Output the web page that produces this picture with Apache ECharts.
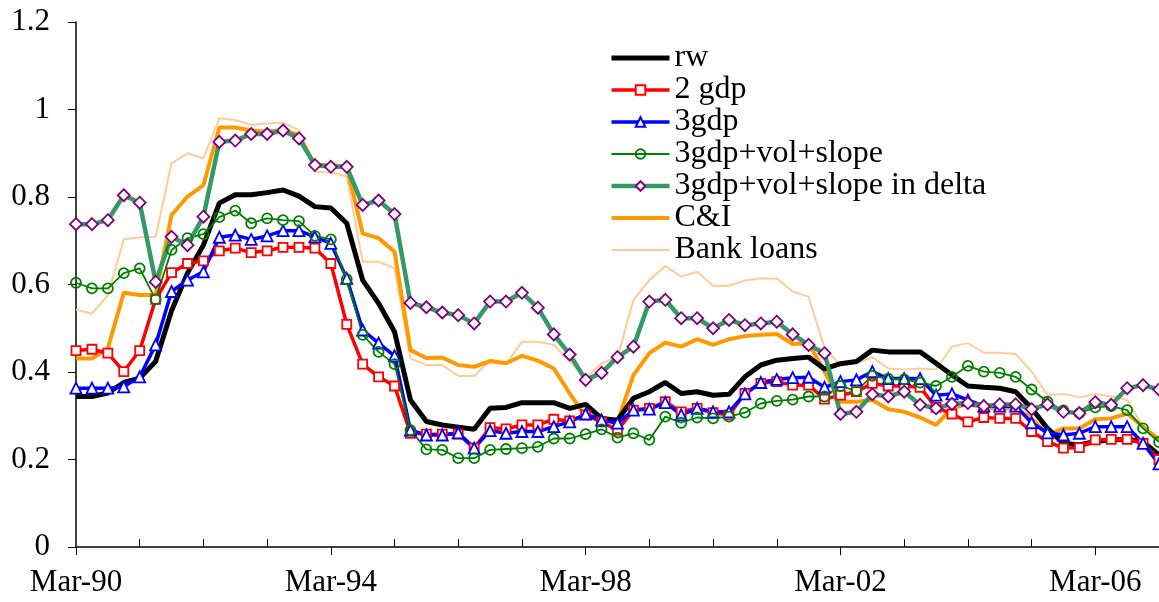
<!DOCTYPE html>
<html>
<head>
<meta charset="utf-8">
<script src="https://cdn.jsdelivr.net/npm/echarts@6/dist/echarts.min.js"></script>
<style>
  html, body { margin: 0; padding: 0; background: #fff; }
  #main { width: 1159px; height: 602px; }
</style>
</head>
<body>
<div id="main"></div>
<script>
// quarterly, Mar-90 .. Mar-07
const years = [90, 91, 92, 93, 94, 95, 96, 97, 98, 99, 0, 1, 2, 3, 4, 5, 6, 7]
const months = ['Mar', 'Jun', 'Sep', 'Dec']
const seriesNames = ['rw', '2 gdp', '3gdp', '3gdp+vol+slope', '3gdp+vol+slope in delta', 'C&I', 'Bank loans']

const rw = [0.344,0.344,0.352,0.376,0.386,0.424,0.54,0.626,0.69,0.786,
  0.805,0.805,0.81,0.816,0.802,0.778,0.775,0.74,0.61,0.557,
  0.492,0.336,0.287,0.279,0.274,0.269,0.317,0.319,0.33,0.33,
  0.33,0.317,0.326,0.294,0.29,0.34,0.355,0.376,0.351,0.355,
  0.347,0.349,0.389,0.416,0.427,0.431,0.434,0.407,0.419,0.424,
  0.45,0.446,0.446,0.446,0.42,0.393,0.368,0.365,0.363,0.355,
  0.317,0.271,0.237,0.233,0.241,0.245,0.246,0.241,0.21]
const gdp2 = [0.449,0.452,0.443,0.401,0.449,0.566,0.627,0.648,0.654,0.677,
  0.683,0.673,0.677,0.685,0.685,0.683,0.648,0.509,0.418,0.389,
  0.368,0.26,0.258,0.258,0.258,0.226,0.273,0.27,0.279,0.279,
  0.292,0.288,0.302,0.286,0.267,0.313,0.317,0.332,0.309,0.317,
  0.307,0.302,0.351,0.374,0.378,0.37,0.37,0.338,0.347,0.355,
  0.374,0.368,0.368,0.365,0.319,0.304,0.286,0.296,0.294,0.294,
  0.264,0.241,0.226,0.227,0.245,0.246,0.246,0.237,0.2]
const gdp3 = [0.363,0.363,0.363,0.366,0.389,0.462,0.584,0.61,0.629,0.708,
  0.713,0.703,0.711,0.723,0.723,0.709,0.694,0.614,0.496,0.466,
  0.437,0.267,0.256,0.256,0.261,0.226,0.266,0.26,0.264,0.264,
  0.275,0.286,0.304,0.29,0.283,0.313,0.315,0.33,0.302,0.317,
  0.309,0.309,0.35,0.376,0.383,0.387,0.388,0.365,0.378,0.382,
  0.401,0.385,0.385,0.385,0.347,0.35,0.336,0.322,0.322,0.322,
  0.284,0.261,0.256,0.26,0.275,0.275,0.275,0.237,0.19]
const volSlope = [0.604,0.591,0.591,0.626,0.637,0.566,0.679,0.706,0.715,0.754,
  0.769,0.74,0.751,0.747,0.745,0.711,0.703,0.612,0.485,0.446,
  0.418,0.267,0.223,0.222,0.203,0.203,0.222,0.224,0.226,0.229,
  0.248,0.248,0.258,0.269,0.25,0.26,0.245,0.298,0.284,0.296,
  0.294,0.298,0.307,0.328,0.334,0.337,0.344,0.344,0.368,0.357,
  0.391,0.385,0.383,0.376,0.368,0.389,0.414,0.401,0.398,0.389,
  0.36,0.332,0.312,0.306,0.319,0.322,0.313,0.271,0.24]
const volSlopeDelta = [0.738,0.738,0.747,0.804,0.787,0.606,0.709,0.69,0.755,0.926,
  0.929,0.944,0.944,0.952,0.934,0.873,0.869,0.869,0.782,0.792,
  0.761,0.558,0.548,0.536,0.53,0.511,0.561,0.561,0.581,0.547,
  0.486,0.44,0.382,0.398,0.434,0.458,0.561,0.565,0.523,0.523,
  0.5,0.519,0.507,0.511,0.515,0.486,0.462,0.443,0.304,0.309,
  0.349,0.344,0.355,0.325,0.317,0.327,0.329,0.322,0.326,0.326,
  0.315,0.326,0.309,0.306,0.331,0.325,0.363,0.37,0.36]
const cni = [0.431,0.431,0.454,0.581,0.576,0.576,0.759,0.801,0.827,0.959,
  0.959,0.952,0.949,0.953,0.942,0.873,0.873,0.869,0.717,0.706,
  0.675,0.45,0.432,0.433,0.416,0.412,0.425,0.42,0.437,0.426,
  0.408,0.351,0.298,0.29,0.286,0.393,0.443,0.467,0.458,0.475,
  0.462,0.475,0.482,0.485,0.487,0.464,0.466,0.401,0.332,0.332,
  0.336,0.315,0.309,0.296,0.279,0.317,0.327,0.319,0.317,0.317,
  0.294,0.256,0.271,0.271,0.292,0.294,0.305,0.275,0.245]
const bankLoans = [0.543,0.533,0.576,0.703,0.708,0.709,0.877,0.9,0.888,0.98,
  0.976,0.965,0.968,0.97,0.953,0.858,0.856,0.847,0.652,0.652,
  0.637,0.431,0.416,0.416,0.391,0.391,0.427,0.418,0.469,0.469,
  0.462,0.424,0.386,0.42,0.433,0.565,0.61,0.642,0.618,0.629,
  0.597,0.597,0.609,0.614,0.614,0.584,0.572,0.454,0.416,0.42,
  0.434,0.408,0.406,0.408,0.406,0.458,0.466,0.444,0.444,0.441,
  0.401,0.347,0.35,0.342,0.35,0.344,0.336,0.275,0.25]

let categories = []
for (let y = 0; y < years.length; y++) {
  for (let q = 0; q < 4; q++) {
    if (categories.length >= rw.length) break
    categories.push(months[q] + '-' + String(years[y]).padStart(2, '0'))
  }
}

const font = 'Liberation Serif, Times New Roman, serif'
let chart = echarts.init(document.getElementById('main'), null, { renderer: 'canvas' })

function markerLine(name, data, color, width, symbol, size, markColor, fill) {
  return {
    name: name,
    type: 'line',
    data: data,
    color: color,
    symbol: symbol,
    symbolSize: size,
    showSymbol: symbol !== 'none',
    showAllSymbol: true,
    lineStyle: { color: color, width: width },
    itemStyle: { color: fill, borderColor: markColor || color, borderWidth: 1.8 },
    emphasis: { disabled: true },
    animation: false
  }
}

// legend entries: no marker for the plain lines, real line widths
function legendItem(name, width, plain) {
  let item = { name: name, lineStyle: { width: width } }
  if (plain) item.itemStyle = { color: 'rgba(0,0,0,0)', borderColor: 'rgba(0,0,0,0)', opacity: 0 }
  return item
}

function getOption() {
  return {
    animation: false,
    grid: { left: 76, right: -5, top: 22, bottom: 55 },
    legend: {
      orient: 'vertical',
      left: 604,
      top: 37,
      itemWidth: 58,
      itemHeight: 12,
      itemGap: 0,
      data: [
        legendItem('rw', 5, true),
        legendItem('2 gdp', 3.5),
        legendItem('3gdp', 3.5),
        legendItem('3gdp+vol+slope', 1.8),
        legendItem('3gdp+vol+slope in delta', 4.5),
        legendItem('C&I', 4, true),
        legendItem('Bank loans', 2, true)
      ],
      textStyle: { fontFamily: font, fontSize: 32, lineHeight: 31, color: '#000', padding: [0, 0, 0, 0] }
    },
    xAxis: [{
      type: 'category',
      data: categories,
      boundaryGap: false,
      position: 'bottom',
      axisLine: { lineStyle: { color: '#000', width: 1.5 } },
      axisTick: {
        inside: true, length: 8, lineStyle: { color: '#000' },
        interval: function (i) { return i % 4 === 0 && i % 16 !== 0 }
      },
      axisLabel: {
        interval: 15, margin: 20, color: '#000', fontFamily: font, fontSize: 31
      },
      splitLine: { show: false }
    }, {
      type: 'category',
      data: categories,
      boundaryGap: false,
      position: 'bottom',
      axisLine: { show: false },
      axisTick: {
        length: 8, lineStyle: { color: '#000' },
        interval: function (i) { return i % 16 === 0 }
      },
      axisLabel: { show: false },
      splitLine: { show: false }
    }],
    yAxis: {
      type: 'value',
      min: 0,
      max: 1.2,
      interval: 0.2,
      axisLine: { show: true, lineStyle: { color: '#000', width: 1.5 } },
      axisTick: { show: true, length: 8, lineStyle: { color: '#000' } },
      axisLabel: { margin: 26, color: '#000', fontFamily: font, fontSize: 31 },
      splitLine: { show: false }
    },
    series: [
      markerLine('Bank loans', bankLoans, '#FFCC99', 2, 'none', 0),
      markerLine('C&I', cni, '#FF9900', 4, 'none', 0),
      markerLine('rw', rw, '#000000', 5, 'none', 0),
      markerLine('2 gdp', gdp2, '#FF0000', 3.5, 'rect', 9, '#FF0000', '#fff'),
      markerLine('3gdp', gdp3, '#0000FF', 3.5, 'triangle', 11, '#0000FF', '#fff'),
      markerLine('3gdp+vol+slope', volSlope, '#008000', 1.8, 'circle', 10, '#008000', 'rgba(255,255,255,0)'),
      markerLine('3gdp+vol+slope in delta', volSlopeDelta, '#339966', 4.5, 'diamond', 12, '#800080', '#fff')
    ]
  }
}

chart.setOption(getOption())
</script>
</body>
</html>
